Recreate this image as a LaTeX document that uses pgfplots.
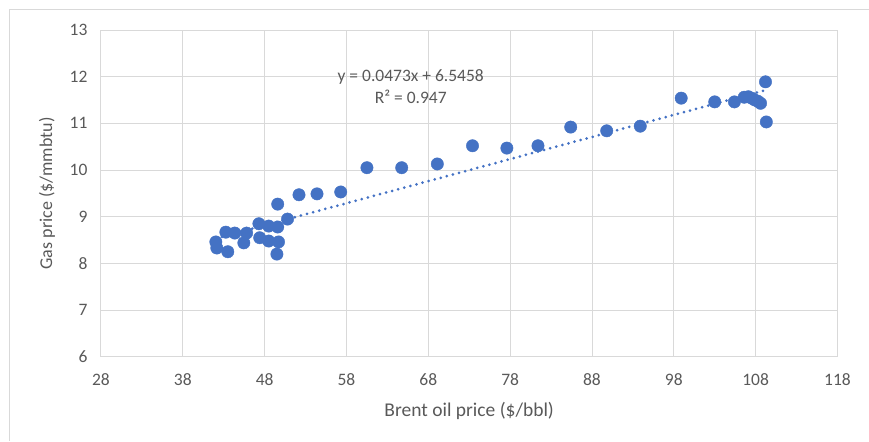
\documentclass[border=0pt]{standalone}
\usepackage{fontspec}
\setmainfont{Carlito}
\usepackage{pgfplots}
\pgfplotsset{compat=1.18}
\definecolor{ptblue}{HTML}{4472C4}
\definecolor{gridc}{HTML}{D9D9D9}
\definecolor{txt}{HTML}{595959}
\begin{document}
\begin{tikzpicture}
\begin{axis}[
  scale only axis, width=737pt, height=327pt,
  xmin=28, xmax=118, ymin=6, ymax=13,
  xtick={28,38,...,118}, ytick={6,7,...,13},
  grid=major, major grid style={gridc, line width=0.9pt},
  axis line style={draw=none}, major tick length=0pt,
  /pgf/number format/assume math mode=true,
  ticklabel style={font=\fontsize{17.5}{20}\selectfont, text=txt},
  yticklabel style={xshift=-10pt},
  xticklabel style={yshift=-13pt},
  xlabel={Brent oil price (\$/bbl)}, ylabel={Gas price (\$/mmbtu)},
  xlabel style={font=\fontsize{19.5}{22}\selectfont, text=txt, at={(axis description cs:0.5,-0.165)}, anchor=center},
  ylabel style={font=\fontsize{18}{20}\selectfont, text=txt, at={(axis description cs:-0.0733,0.5)}, anchor=center},
  clip=false,
]
\addplot[ptblue, line width=3pt, line cap=round, dash pattern=on 0pt off 6.3pt] coordinates {(42.04,8.534) (109.3,11.716)};
\addplot[only marks, mark=*, mark size=6.2pt, mark options={fill=ptblue, draw=ptblue}] coordinates {
(42.04,8.46) (42.16,8.33) (43.26,8.67) (43.5,8.25) (44.36,8.65) (45.8,8.65) (45.46,8.44)
(47.3,8.85) (47.4,8.55) (48.5,8.80) (48.5,8.48) (49.6,8.78) (49.7,8.46) (49.5,8.20)
(50.8,8.95) (49.6,9.27) (52.2,9.47) (54.4,9.49) (57.3,9.53) (60.5,10.05) (64.75,10.05)
(69.1,10.13) (73.4,10.52) (77.6,10.47) (81.4,10.52) (85.4,10.92) (89.8,10.84) (93.9,10.94)
(98.9,11.54) (103.0,11.46) (105.4,11.46) (106.6,11.56) (107.1,11.57) (107.5,11.54)
(107.9,11.50) (108.3,11.47) (108.6,11.43) (109.2,11.89) (109.3,11.03)};
\node[text=txt, font=\fontsize{17.5}{22}\selectfont, align=center] at (axis cs:65.85,11.78) {y = 0.0473x + 6.5458\\R² = 0.947};
\end{axis}
\draw[gridc, line width=1pt] (-91pt,-84pt) -- (-91pt,347pt) -- (768pt,347pt);
\path[use as bounding box] (-101pt,-84pt) rectangle (768pt,357pt);
\end{tikzpicture}
\end{document}
